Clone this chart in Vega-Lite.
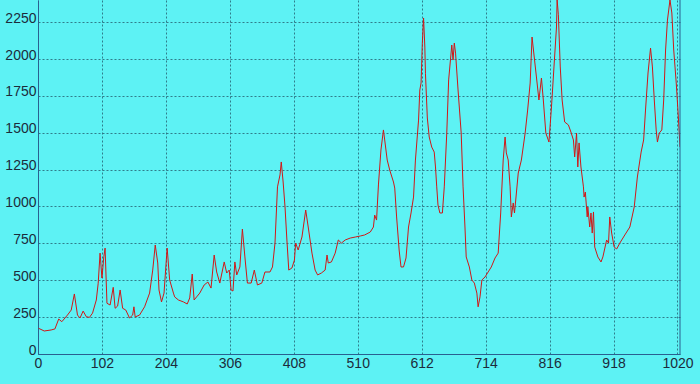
{
  "$schema": "https://vega.github.io/schema/vega-lite/v6.json",
  "autosize": {"type": "none"},
  "width": 642,
  "height": 354,
  "padding": {"left": 38, "top": 0, "right": 20, "bottom": 30},
  "background": "#5df2f4",
  "config": {
    "view": {"fill": "#5df2f4", "stroke": null},
    "axis": {
      "labelFont": "Liberation Sans",
      "labelFontSize": 14,
      "labelColor": "#1c2c3c",
      "ticks": false,
      "domainColor": "#2a6090",
      "domainWidth": 1,
      "gridColor": "#2a7080",
      "gridDash": [2, 2],
      "gridWidth": 1,
      "gridOpacity": 0.9,
      "format": "d",
      "title": null
    }
  },
  "data": {"values": [
    {"x":1,"y":174},{"x":10,"y":156},{"x":21,"y":163},{"x":27,"y":170},{"x":33,"y":237},{"x":38,"y":219},
    {"x":47,"y":264},{"x":53,"y":298},{"x":58,"y":407},{"x":63,"y":264},{"x":67,"y":244},{"x":72,"y":291},
    {"x":77,"y":253},{"x":82,"y":248},{"x":87,"y":277},{"x":93,"y":366},{"x":96,"y":480},{"x":99,"y":684},
    {"x":102,"y":515},{"x":105,"y":660},{"x":107,"y":718},{"x":110,"y":344},{"x":115,"y":332},{"x":120,"y":452},
    {"x":123,"y":310},{"x":127,"y":325},{"x":131,"y":434},{"x":135,"y":310},{"x":140,"y":298},{"x":146,"y":244},
    {"x":151,"y":264},{"x":153,"y":320},{"x":155,"y":251},{"x":162,"y":264},{"x":170,"y":320},{"x":178,"y":413},
    {"x":183,"y":569},{"x":187,"y":739},{"x":191,"y":617},{"x":193,"y":434},{"x":197,"y":353},{"x":201,"y":413},
    {"x":206,"y":718},{"x":210,"y":502},{"x":216,"y":413},{"x":218,"y":387},{"x":224,"y":366},{"x":232,"y":353},
    {"x":238,"y":339},{"x":242,"y":380},{"x":246,"y":542},{"x":249,"y":366},{"x":253,"y":387},{"x":258,"y":413},
    {"x":265,"y":468},{"x":271,"y":488},{"x":276,"y":447},{"x":281,"y":671},{"x":285,"y":556},{"x":290,"y":481},
    {"x":297,"y":624},{"x":301,"y":549},{"x":305,"y":569},{"x":308,"y":434},{"x":311,"y":427},{"x":314,"y":624},
    {"x":317,"y":536},{"x":322,"y":590},{"x":326,"y":847},{"x":330,"y":658},{"x":334,"y":481},{"x":340,"y":481},
    {"x":345,"y":569},{"x":350,"y":468},{"x":357,"y":481},{"x":362,"y":556},{"x":370,"y":556},{"x":374,"y":590},
    {"x":378,"y":752},{"x":382,"y":1133},{"x":386,"y":1214},{"x":388,"y":1302},{"x":391,"y":1166},{"x":394,"y":997},
    {"x":397,"y":773},{"x":400,"y":569},{"x":405,"y":583},{"x":409,"y":637},{"x":411,"y":752},{"x":415,"y":705},
    {"x":421,"y":793},{"x":427,"y":976},{"x":431,"y":861},{"x":437,"y":684},{"x":442,"y":569},{"x":446,"y":536},
    {"x":452,"y":549},{"x":458,"y":569},{"x":461,"y":671},{"x":463,"y":617},{"x":468,"y":624},{"x":474,"y":684},
    {"x":479,"y":773},{"x":484,"y":752},{"x":490,"y":773},{"x":498,"y":786},{"x":506,"y":793},{"x":514,"y":800},
    {"x":521,"y":807},{"x":530,"y":827},{"x":535,"y":861},{"x":537,"y":942},{"x":540,"y":908},{"x":543,"y":1146},
    {"x":547,"y":1383},{"x":551,"y":1519},{"x":553,"y":1451},{"x":557,"y":1315},{"x":561,"y":1247},{"x":567,"y":1166},
    {"x":569,"y":1125},{"x":572,"y":929},{"x":576,"y":705},{"x":579,"y":590},{"x":583,"y":590},{"x":587,"y":651},
    {"x":591,"y":861},{"x":595,"y":956},{"x":599,"y":1064},{"x":602,"y":1315},{"x":607,"y":1586},{"x":609,"y":1790},
    {"x":611,"y":1837},{"x":613,"y":2108},{"x":615,"y":2278},{"x":617,"y":2081},{"x":618,"y":1900},{"x":621,"y":1600},
    {"x":624,"y":1471},{"x":628,"y":1403},{"x":632,"y":1369},{"x":634,"y":1268},{"x":636,"y":1133},{"x":638,"y":1010},
    {"x":641,"y":956},{"x":645,"y":956},{"x":648,"y":1133},{"x":652,"y":1498},{"x":655,"y":1858},{"x":660,"y":2095},
    {"x":662,"y":1993},{"x":664,"y":2108},{"x":666,"y":2040},{"x":670,"y":1790},{"x":675,"y":1498},{"x":678,"y":1133},
    {"x":681,"y":861},{"x":683,"y":658},{"x":688,"y":590},{"x":692,"y":502},{"x":696,"y":481},{"x":700,"y":413},
    {"x":702,"y":320},{"x":705,"y":387},{"x":708,"y":502},{"x":713,"y":522},{"x":718,"y":556},{"x":723,"y":590},
    {"x":729,"y":651},{"x":734,"y":684},{"x":738,"y":956},{"x":742,"y":1315},{"x":745,"y":1471},{"x":747,"y":1363},
    {"x":750,"y":1315},{"x":753,"y":1133},{"x":755,"y":929},{"x":758,"y":1024},{"x":760,"y":956},{"x":762,"y":1044},
    {"x":766,"y":1227},{"x":771,"y":1315},{"x":777,"y":1498},{"x":781,"y":1654},{"x":785,"y":1837},{"x":788,"y":2149},
    {"x":792,"y":1993},{"x":795,"y":1878},{"x":799,"y":1722},{"x":803,"y":1871},{"x":806,"y":1722},{"x":810,"y":1498},
    {"x":815,"y":1437},{"x":819,"y":1675},{"x":823,"y":1946},{"x":827,"y":2217},{"x":828,"y":2400},{"x":830,"y":2300},
    {"x":833,"y":1946},{"x":836,"y":1722},{"x":840,"y":1573},{"x":846,"y":1553},{"x":850,"y":1505},{"x":854,"y":1451},
    {"x":856,"y":1336},{"x":859,"y":1498},{"x":861,"y":1268},{"x":863,"y":1431},{"x":866,"y":1268},{"x":870,"y":1133},
    {"x":871,"y":1064},{"x":873,"y":1098},{"x":876,"y":929},{"x":877,"y":997},{"x":880,"y":861},{"x":882,"y":956},
    {"x":884,"y":820},{"x":886,"y":963},{"x":888,"y":725},{"x":893,"y":658},{"x":898,"y":624},{"x":901,"y":658},
    {"x":907,"y":773},{"x":910,"y":752},{"x":912,"y":929},{"x":915,"y":820},{"x":919,"y":725},{"x":923,"y":712},
    {"x":928,"y":752},{"x":936,"y":807},{"x":944,"y":861},{"x":951,"y":997},{"x":956,"y":1200},{"x":962,"y":1369},
    {"x":966,"y":1451},{"x":969,"y":1654},{"x":973,"y":1905},{"x":977,"y":2074},{"x":980,"y":1946},{"x":983,"y":1722},
    {"x":986,"y":1519},{"x":988,"y":1437},{"x":991,"y":1498},{"x":995,"y":1519},{"x":998,"y":1722},{"x":1001,"y":2061},
    {"x":1004,"y":2264},{"x":1008,"y":2400},{"x":1011,"y":2312},{"x":1014,"y":2061},{"x":1018,"y":1837},{"x":1021,"y":1634},
    {"x":1024,"y":1403}
  ]},
  "layer": [
    {
      "mark": {"type": "line", "color": "#d01818", "strokeWidth": 1, "clip": true},
      "encoding": {
        "x": {"field": "x", "type": "quantitative",
          "scale": {"domain": [0, 1024], "nice": false, "zero": false},
          "axis": {"values": [0,102,204,306,408,510,612,714,816,918,1020], "labelPadding": 2, "labelFlush": false, "labelOverlap": false}},
        "y": {"field": "y", "type": "quantitative",
          "scale": {"domain": [0, 2400], "nice": false},
          "axis": {"values": [0,250,500,750,1000,1250,1500,1750,2000,2250], "labelBaseline": "alphabetic", "labelPadding": 2, "labelOverlap": false}}
      }
    },
    {
      "data": {"values": [{"x": 1024}]},
      "mark": {"type": "rule", "color": "#2a6090", "strokeWidth": 1},
      "encoding": {"x": {"field": "x", "type": "quantitative"}}
    }
  ]
}
